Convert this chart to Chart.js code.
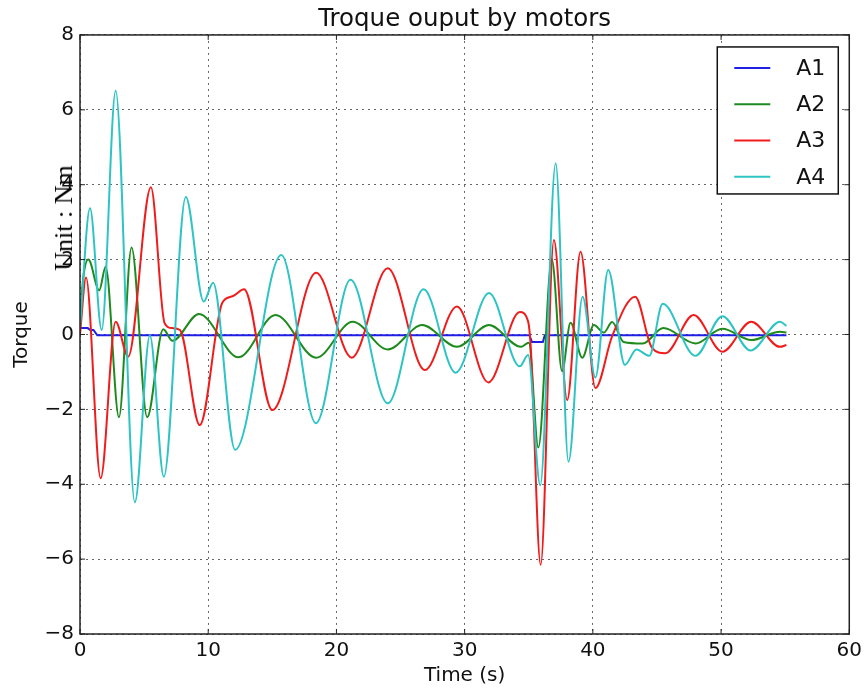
<!DOCTYPE html>
<html>
<head>
<meta charset="utf-8">
<script src="https://cdn.jsdelivr.net/npm/chart.js@4.4.1/dist/chart.umd.min.js"></script>
<style>
  html, body { margin: 0; padding: 0; background: #fff; }
  #wrap { position: relative; width: 867px; height: 688px; }
  #unitLabel {
    position: absolute; left: 64px; top: 218px;
    transform: translate(-50%, -50%) rotate(-90deg);
    font-family: "Liberation Serif", serif; font-size: 26px; line-height: 1;
    white-space: nowrap; color: #000;
  }
</style>
</head>
<body>
<div id="wrap">
  <canvas id="torqueChart" width="867" height="688"></canvas>
  <div id="unitLabel">Unit : Nm</div>
</div>
<script>
// values (time in s, torque in Nm)
var a1Time   = [0, 0.6, 0.8, 1.05, 1.35, 35.05, 35.25, 36.1, 36.25, 55.1];
var a1Torque = [0.17, 0.17, 0.12, 0.12, -0.02, -0.02, -0.2, -0.2, -0.02, -0.02];

var a2Time   = [0, 0.25, 0.65, 1.5, 2.0, 3.04, 4.02, 5.24, 6.49, 7.21, 9.28, 12.37, 15.25, 18.42, 21.27, 24.0, 26.7, 29.4, 31.9, 34.4, 35.0, 35.75, 36.8, 37.6, 38.26, 39.17, 40.08, 40.86, 41.5, 42.4, 43.9, 45.5, 48.0, 50.1, 52.35, 54.6, 55.1];
var a2Torque = [0.4, 1.5, 2.0, 1.18, 1.81, -2.21, 2.32, -2.21, 0.14, -0.17, 0.55, -0.61, 0.52, -0.62, 0.34, -0.4, 0.25, -0.33, 0.25, -0.33, -0.22, -3.02, 2.0, -0.98, 0.31, -0.62, 0.25, 0.05, 0.33, -0.2, -0.24, 0.17, -0.24, 0.15, -0.15, 0.07, 0.05];

var a3Time   = [0, 0.47, 1.61, 2.78, 3.76, 5.53, 6.6, 7.2, 7.8, 9.34, 11.1, 11.9, 12.8, 15.0, 18.42, 21.2, 24.0, 26.9, 29.4, 31.85, 34.3, 34.95, 35.15, 35.93, 36.96, 38.0, 39.04, 40.2, 41.5, 43.3, 44.6, 45.65, 47.86, 50.1, 52.35, 54.6, 55.1];
var a3Torque = [0, 1.52, -3.84, 0.34, -0.59, 3.93, 0.3, 0.17, 0.12, -2.42, 0.85, 1.02, 1.21, -2.02, 1.65, -0.62, 1.77, -0.95, 0.75, -1.28, 0.6, 0.35, -0.3, -6.15, 2.52, -1.75, 2.21, -1.43, -0.05, 1.01, -0.35, -0.5, 0.52, -0.46, 0.34, -0.33, -0.28];

var a4Time   = [0, 0.78, 1.69, 2.78, 4.28, 5.45, 6.54, 8.25, 9.65, 10.38, 12.1, 15.7, 18.4, 21.1, 24.0, 26.8, 29.3, 31.9, 34.3, 34.95, 35.9, 37.1, 38.1, 39.2, 40.2, 41.2, 42.5, 43.4, 44.4, 45.45, 48.0, 50.1, 52.3, 54.6, 55.1];
var a4Torque = [0.2, 3.37, 0.12, 6.51, -4.48, -0.03, -3.8, 3.67, 0.88, 1.38, -3.08, 2.12, -2.37, 1.46, -1.84, 1.21, -1.02, 1.11, -0.85, -0.55, -4.03, 4.57, -3.4, 1.01, -1.15, 1.72, -0.81, -0.4, -0.57, 0.82, -0.57, 0.49, -0.43, 0.34, 0.23];

var seriesNames = ['A1', 'A2', 'A3', 'A4'];
var xTicks = [0, 10, 20, 30, 40, 50, 60];
var yTicks = [-8, -6, -4, -2, 0, 2, 4, 6, 8];

function pairs(t, v) {
    return t.map(function (x, i) { return {x: x, y: v[i]}; });
}

var lineColors = ['#1f1fe6', '#1e8a1e', '#f01c1c', '#2ec4c4'];

const dataTorque = {
    datasets: [
        {label: seriesNames[0], data: pairs(a1Time, a1Torque), borderColor: lineColors[0], tension: 0, order: 4},
        {label: seriesNames[1], data: pairs(a2Time, a2Torque), borderColor: lineColors[1], cubicInterpolationMode: 'monotone', order: 3},
        {label: seriesNames[2], data: pairs(a3Time, a3Torque), borderColor: lineColors[2], cubicInterpolationMode: 'monotone', order: 2},
        {label: seriesNames[3], data: pairs(a4Time, a4Torque), borderColor: lineColors[3], cubicInterpolationMode: 'monotone', order: 1}
    ]
};
dataTorque.datasets.forEach(function (ds) {
    ds.pointRadius = 0;
    ds.borderWidth = 2;
    ds.fill = false;
});

// center the title over the plot area instead of the whole canvas
const titleOverAxes = {
    id: 'titleOverAxes',
    afterLayout: function (chart) {
        if (chart.titleBlock) {
            chart.titleBlock.left = chart.chartArea.left;
            chart.titleBlock.right = chart.chartArea.right;
        }
    }
};

// frame around the axes with inward ticks, like matplotlib
const framePlugin = {
    id: 'frame',
    afterDatasetsDraw: function (chart) {
        var ctx = chart.ctx, a = chart.chartArea, sx = chart.scales.x, sy = chart.scales.y;
        ctx.save();
        ctx.strokeStyle = '#222';
        ctx.lineWidth = 1.5;
        ctx.strokeRect(a.left, a.top, a.right - a.left, a.bottom - a.top);
        ctx.lineWidth = 1;
        ctx.beginPath();
        xTicks.forEach(function (v) {
            var px = sx.getPixelForValue(v);
            ctx.moveTo(px, a.bottom); ctx.lineTo(px, a.bottom - 5);
            ctx.moveTo(px, a.top); ctx.lineTo(px, a.top + 5);
        });
        yTicks.forEach(function (v) {
            var py = sy.getPixelForValue(v);
            ctx.moveTo(a.left, py); ctx.lineTo(a.left + 5, py);
            ctx.moveTo(a.right, py); ctx.lineTo(a.right - 5, py);
        });
        ctx.stroke();
        ctx.restore();
    }
};

// boxed legend in the upper right corner of the plot
const boxLegend = {
    id: 'boxLegend',
    afterDraw: function (chart) {
        var ctx = chart.ctx, a = chart.chartArea;
        var w = 121, h = 147, x0 = a.right - 11 - w, y0 = a.top + 12;
        ctx.save();
        ctx.fillStyle = '#fff';
        ctx.fillRect(x0, y0, w, h);
        ctx.strokeStyle = '#111';
        ctx.lineWidth = 1.5;
        ctx.strokeRect(x0, y0, w, h);
        ctx.font = '22px "DejaVu Sans"';
        ctx.textBaseline = 'middle';
        ctx.fillStyle = '#111';
        chart.data.datasets.forEach(function (ds, i) {
            var y = y0 + 21 + i * 36.3;
            ctx.strokeStyle = ds.borderColor;
            ctx.lineWidth = 2;
            ctx.beginPath();
            ctx.moveTo(x0 + 17, y);
            ctx.lineTo(x0 + 53, y);
            ctx.stroke();
            ctx.fillText(ds.label, x0 + 79, y + 1);
        });
        ctx.restore();
    }
};

var gridStyle = {color: 'rgba(0,0,0,0.6)', lineWidth: 1, drawTicks: false};
var tickFont = {family: 'DejaVu Sans', size: 20};

const torqueChart = new Chart(document.getElementById('torqueChart').getContext('2d'), {
    type: 'line',
    data: dataTorque,
    plugins: [titleOverAxes, framePlugin, boxLegend],
    options: {
        responsive: false,
        animation: false,
        layout: {padding: {left: 0, right: 16, top: 0, bottom: 0}},
        plugins: {
            legend: {display: false},
            tooltip: {enabled: false},
            title: {
                display: true,
                text: 'Troque ouput by motors',
                color: '#111',
                font: {family: 'DejaVu Sans', size: 24.5, weight: 'normal', lineHeight: 1.1},
                padding: {top: 6, bottom: 2}
            }
        },
        scales: {
            x: {
                type: 'linear',
                min: 0,
                max: 60,
                afterBuildTicks: function (s) { s.ticks = xTicks.map(function (v) { return {value: v}; }); },
                afterFit: function (s) { s.height = 54; },
                ticks: {color: '#111', font: tickFont, padding: 5, maxRotation: 0},
                grid: gridStyle,
                border: {display: false, dash: [2, 4]},
                title: {display: true, text: 'Time (s)', color: '#111', font: tickFont, padding: {top: 0, bottom: 0}}
            },
            y: {
                min: -8,
                max: 8,
                afterBuildTicks: function (s) { s.ticks = yTicks.map(function (v) { return {value: v}; }); },
                afterFit: function (s) { s.width = 80; },
                ticks: {
                    color: '#111',
                    font: tickFont,
                    padding: 6,
                    callback: function (v) { return v < 0 ? '\u2212' + Math.abs(v) : String(v); }
                },
                grid: gridStyle,
                border: {display: false, dash: [2, 4]},
                title: {display: true, text: 'Torque', color: '#111', font: tickFont, padding: {top: 10, bottom: 0}}
            }
        }
    }
});
</script>
</body>
</html>
